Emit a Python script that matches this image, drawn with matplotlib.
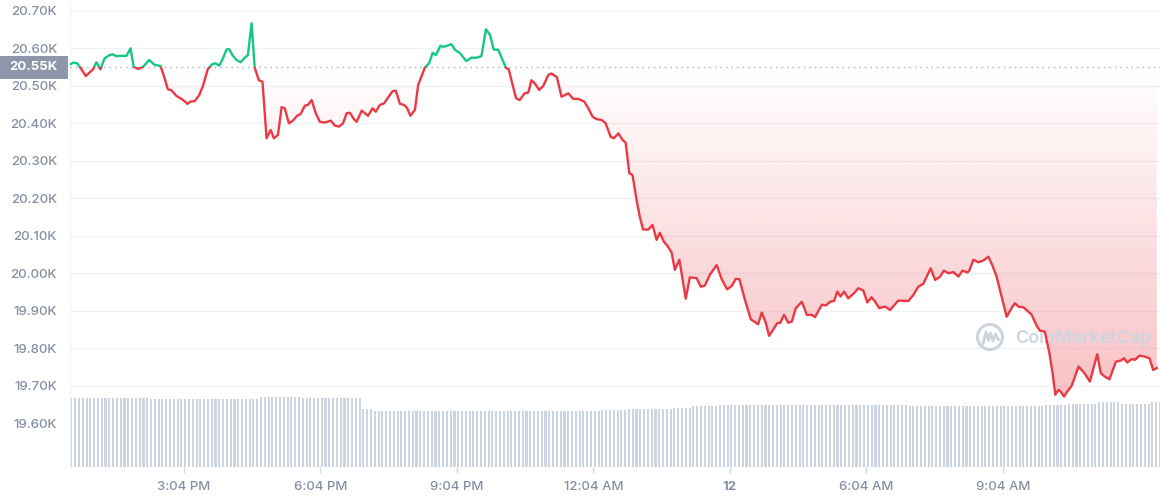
import numpy as np
import matplotlib
matplotlib.use('Agg')
import matplotlib.pyplot as plt
from matplotlib.patches import Rectangle, Circle
from matplotlib.path import Path
from matplotlib.colors import to_rgb
from matplotlib.transforms import blended_transform_factory

matplotlib.rc('font', family=['Inter', 'DejaVu Sans'], size=9.5, weight='medium')

# time = hours after 12:04 PM, price in USD
hours = [0.49, 0.57, 0.66, 0.73, 0.85, 0.95, 1.01, 1.08, 1.17, 1.26,
         1.37, 1.45, 1.51, 1.63, 1.74, 1.83, 1.90, 2.00, 2.11, 2.24,
         2.36, 2.49, 2.58, 2.65, 2.73, 2.84, 2.95, 3.02, 3.08, 3.15,
         3.24, 3.34, 3.42, 3.53, 3.63, 3.70, 3.78, 3.86, 3.94, 4.00,
         4.07, 4.16, 4.25, 4.34, 4.41, 4.49, 4.56, 4.65, 4.73, 4.82,
         4.91, 4.98, 5.07, 5.15, 5.22, 5.31, 5.40, 5.49, 5.57, 5.66,
         5.73, 5.81, 5.90, 5.99, 6.10, 6.23, 6.32, 6.41, 6.50, 6.58,
         6.65, 6.74, 6.80, 6.91, 7.05, 7.15, 7.22, 7.31, 7.40, 7.49,
         7.59, 7.66, 7.75, 7.84, 7.91, 7.98, 8.08, 8.15, 8.22, 8.30,
         8.39, 8.47, 8.54, 8.64, 8.71, 8.83, 8.88, 8.96, 9.07, 9.21,
         9.32, 9.43, 9.54, 9.64, 9.73, 9.81, 9.91, 10.08, 10.14, 10.30,
         10.38, 10.49, 10.57, 10.64, 10.71, 10.81, 10.90, 11.01, 11.08, 11.20,
         11.30, 11.45, 11.56, 11.67, 11.80, 11.89, 11.98, 12.07, 12.18, 12.27,
         12.38, 12.45, 12.55, 12.64, 12.71, 12.79, 12.86, 12.95, 13.02, 13.09,
         13.20, 13.30, 13.39, 13.46, 13.55, 13.64, 13.72, 13.79, 13.89, 14.03,
         14.12, 14.27, 14.36, 14.45, 14.56, 14.71, 14.82, 14.94, 15.04, 15.13,
         15.21, 15.33, 15.46, 15.62, 15.70, 15.79, 15.86, 15.95, 16.04, 16.11,
         16.19, 16.28, 16.36, 16.45, 16.58, 16.69, 16.80, 16.87, 17.02, 17.11,
         17.20, 17.29, 17.36, 17.43, 17.51, 17.60, 17.73, 17.82, 17.93, 18.02,
         18.11, 18.19, 18.28, 18.41, 18.52, 18.60, 18.70, 18.92, 19.03, 19.14,
         19.25, 19.41, 19.51, 19.62, 19.70, 19.80, 19.91, 20.02, 20.11, 20.22,
         20.26, 20.35, 20.46, 20.57, 20.68, 20.77, 20.86, 20.97, 21.08, 21.19,
         21.26, 21.34, 21.45, 21.58, 21.63, 21.74, 21.81, 21.92, 22.02, 22.09,
         22.15, 22.22, 22.27, 22.34, 22.41, 22.51, 22.66, 22.78, 22.91, 22.99,
         23.07, 23.15, 23.24, 23.34, 23.48, 23.59, 23.66, 23.73, 23.83, 23.90,
         24.00, 24.10, 24.22, 24.30, 24.38]
price = [20556, 20562, 20560, 20548, 20526, 20538, 20544, 20563, 20544, 20573,
         20582, 20584, 20579, 20580, 20580, 20600, 20551, 20545, 20551, 20569,
         20556, 20553, 20520, 20491, 20488, 20473, 20465, 20459, 20452, 20458,
         20459, 20475, 20499, 20545, 20558, 20560, 20554, 20573, 20597, 20598,
         20582, 20569, 20563, 20575, 20582, 20667, 20548, 20515, 20511, 20360,
         20382, 20360, 20369, 20443, 20440, 20400, 20407, 20420, 20425, 20447,
         20449, 20462, 20427, 20404, 20402, 20407, 20394, 20391, 20400, 20427,
         20428, 20411, 20404, 20434, 20420, 20440, 20431, 20449, 20453, 20469,
         20486, 20487, 20452, 20449, 20440, 20420, 20436, 20502, 20524, 20549,
         20560, 20588, 20582, 20607, 20604, 20609, 20611, 20596, 20587, 20566,
         20575, 20575, 20579, 20651, 20636, 20597, 20596, 20548, 20544, 20467,
         20462, 20480, 20482, 20515, 20507, 20489, 20500, 20529, 20533, 20523,
         20471, 20480, 20465, 20465, 20458, 20440, 20418, 20411, 20409, 20400,
         20364, 20360, 20373, 20356, 20348, 20267, 20262, 20195, 20151, 20117,
         20116, 20129, 20089, 20108, 20084, 20071, 20055, 20009, 20036, 19932,
         19989, 19987, 19964, 19967, 19996, 20022, 19984, 19957, 19966, 19985,
         19984, 19929, 19877, 19864, 19895, 19867, 19833, 19849, 19867, 19868,
         19889, 19868, 19871, 19907, 19924, 19889, 19889, 19883, 19916, 19914,
         19924, 19926, 19951, 19938, 19951, 19933, 19947, 19960, 19954, 19922,
         19936, 19924, 19907, 19911, 19902, 19913, 19927, 19926, 19942, 19964,
         19972, 20013, 19982, 19991, 20007, 20000, 20003, 19991, 20007, 20002,
         20007, 20036, 20029, 20034, 20044, 20020, 19991, 19938, 19884, 19907,
         19920, 19911, 19909, 19895, 19889, 19860, 19847, 19844, 19787, 19733,
         19676, 19689, 19684, 19671, 19684, 19700, 19751, 19735, 19711, 19747,
         19784, 19733, 19724, 19717, 19764, 19767, 19773, 19762, 19771, 19769,
         19780, 19778, 19773, 19742, 19747]

open_price = 20550
price_ticks = [19600, 19700, 19800, 19900, 20000, 20100, 20200, 20300, 20400, 20500, 20600, 20700]
tick_hours = [3, 6, 9, 12, 15, 18, 21]
tick_labels = ['3:04 PM', '6:04 PM', '9:04 PM', '12:04 AM', '12', '6:04 AM', '9:04 AM']

# 24h volume (billion USD), 5 minute bars, as (bar count, level)
vol_runs = [(21, 31.0), (29, 30.5), (11, 31.3), (16, 31.0), (3, 26.1), (60, 25.4),
            (7, 25.5), (12, 26.1), (5, 26.7), (7, 27.3), (10, 27.8), (40, 28.0),
            (36, 27.3), (6, 27.8), (8, 28.5), (6, 29.3), (8, 28.5), (3, 29.3)]
vol_start = 0.49
vol_step = 5 / 60.0

hours = np.array(hours)
price = np.array(price, dtype=float)
volume = np.concatenate([[v] * n for n, v in vol_runs])
vol_hours = vol_start + vol_step * (np.arange(len(volume)) + 0.5)

red = '#ea3943'
green = '#16c784'
label_color = '#858fa3'
xmin, xmax = 0.49, 24.45
ymin, ymax = 19483, 20729

fig = plt.figure(figsize=(11.61, 5.0), dpi=100, facecolor='w')
ax = fig.add_axes([69.5 / 1161, 33 / 500, 1090.5 / 1161, 467 / 500])
vax = ax.twinx()
ax.set_zorder(vax.get_zorder() + 1)
ax.patch.set_visible(False)

# volume bars
vax.bar(vol_hours, volume, width=vol_step * 0.55, color='#cdd4e1', linewidth=0)
vax.set_ylim(0, 210)
vax.set_xlim(xmin, xmax)
vax.axis('off')

# grid lines
for v in price_ticks[1:]:
    ax.axhline(v, color='#eff2f5', lw=1, zorder=0)


def gradient_fill(where, far, color, alpha_far):
    poly = ax.fill_between(hours, price, open_price, where=where, interpolate=True,
                           facecolor='none', edgecolor='none')
    path = Path.make_compound_path(*poly.get_paths())
    img = np.zeros((256, 1, 4))
    img[..., :3] = to_rgb(color)
    lo, hi = min(far, open_price), max(far, open_price)
    if far < open_price:
        img[:, 0, 3] = np.linspace(alpha_far, 0, 256)
    else:
        img[:, 0, 3] = np.linspace(0, alpha_far, 256)
    im = ax.imshow(img, extent=[xmin, xmax, lo, hi], origin='lower', aspect='auto',
                   interpolation='bilinear', zorder=1)
    im.set_clip_path(path, transform=ax.transData)


gradient_fill(price <= open_price, 19620, red, 0.33)
gradient_fill(price >= open_price, ymax, '#9aa5b8', 0.10)

# watermark
wm = '#cdd4e0'
ax.text(0.867, 0.276, 'CoinMarketCap', transform=ax.transAxes, ha='left', va='center',
        fontsize=13, fontweight='semibold', color=wm, zorder=2)
fig.patches.append(Circle((9.90, 1.63), 0.125, transform=fig.dpi_scale_trans,
                          fill=False, ec=wm, lw=2.2, zorder=2))
fig.lines.append(plt.Line2D([9.83, 9.86, 9.885, 9.905, 9.93, 9.955, 9.985],
                            [1.56, 1.68, 1.60, 1.67, 1.59, 1.66, 1.60],
                            transform=fig.dpi_scale_trans, color=wm, lw=2.0,
                            solid_joinstyle='round', solid_capstyle='round'))

# price line, red below the open price and green above
for col, lo, hi in [(red, ymin, open_price), (green, open_price, ymax)]:
    ln, = ax.plot(hours, price, color=col, lw=1.7, zorder=4, solid_joinstyle='round')
    ln.set_clip_path(Rectangle((xmin, lo), xmax - xmin, hi - lo, transform=ax.transData))

ax.axhline(open_price, color='#a3abbd', lw=1, ls=(0, (1, 3)), zorder=3)

# open price label box
trans = blended_transform_factory(fig.transFigure, ax.transData)
ax.add_patch(Rectangle((0, open_price - 30.5), 68 / 1161, 61, transform=trans,
                       facecolor='#8e97aa', edgecolor='none', clip_on=False, zorder=5))
ax.text(57 / 1161, open_price, '%.2fK' % (open_price / 1000), transform=trans,
        ha='right', va='center', color='w', fontweight='bold', fontsize=9.5, zorder=6)

ax.set_xlim(xmin, xmax)
ax.set_ylim(ymin, ymax)
ax.set_yticks(price_ticks)
ax.set_yticklabels(['%.2fK' % (v / 1000) for v in price_ticks])
ax.set_xticks(tick_hours)
ax.set_xticklabels(tick_labels)
ax.tick_params(axis='y', length=0, pad=9, labelcolor=label_color)
ax.tick_params(axis='x', length=4, width=1, color='#cfd6e4', pad=6, labelcolor=label_color)
for lab in ax.get_xticklabels():
    if lab.get_text() == '12':
        lab.set_fontweight('bold')
for s in ['top', 'right', 'bottom']:
    ax.spines[s].set_visible(False)
ax.spines['left'].set_color('#eff2f5')

fig.savefig('out.png', dpi=100, facecolor='w')
